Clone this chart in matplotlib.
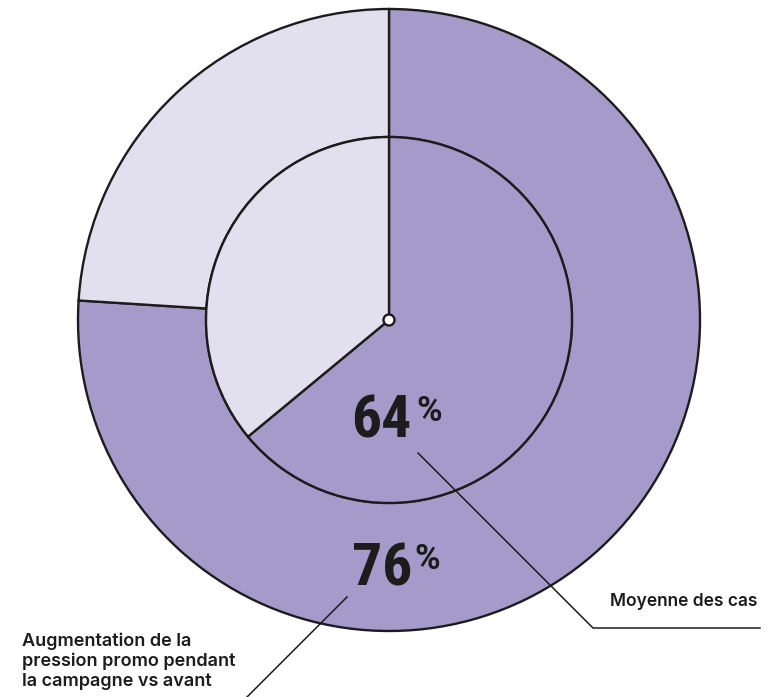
import matplotlib.pyplot as plt

# data
outer_labels = ['Augmentation', 'Reste']
outer_vals = [76, 24]
inner_labels = ['Moyenne des cas', 'Reste']
inner_vals = [64, 36]
outer_txt = 'Augmentation de la\npression promo pendant\nla campagne vs avant'
inner_txt = 'Moyenne des cas'

purple = '#a49bcb'
light = '#e2dfef'
ink = '#1c1c1c'

W, H = 777, 697
fig = plt.figure(figsize=(W/100, H/100), dpi=100)
ax = fig.add_axes([0, 0, 1, 1])

cx, cy = 389, H - 320
R_out, R_in = 311, 183

ax.pie(outer_vals, radius=R_out, center=(cx, cy), startangle=90, counterclock=False,
       colors=[purple, light],
       wedgeprops=dict(width=R_out - R_in, edgecolor=ink, linewidth=1.7))
ax.pie(inner_vals, radius=R_in, center=(cx, cy), startangle=90, counterclock=False,
       colors=[purple, light],
       wedgeprops=dict(edgecolor=ink, linewidth=1.7))
ax.add_patch(plt.Circle((cx, cy), 5.5, facecolor='white', edgecolor=ink, lw=1.7, zorder=5))

ax.set_xlim(0, W)
ax.set_ylim(0, H)
ax.set_aspect('equal')
ax.axis('off')

num_font = ['Roboto Condensed', 'Liberation Sans Narrow', 'Roboto']
pct_font = ['Roboto', 'DejaVu Sans']
# big numbers
ax.text(412, H - 437, f'{inner_vals[0]}', ha='right', va='baseline', fontsize=43,
        fontweight='bold', family=num_font, color=ink)
ax.text(416, H - 421, '%', ha='left', va='baseline', fontsize=25,
        fontweight='bold', family=pct_font, color=ink)
ax.text(412, H - 586, f'{outer_vals[0]}', ha='right', va='baseline', fontsize=43,
        fontweight='bold', family=num_font, color=ink)
ax.text(414, H - 569, '%', ha='left', va='baseline', fontsize=25,
        fontweight='bold', family=pct_font, color=ink)

# leader lines
ax.plot([418, 593, 760], [H - 453, H - 628, H - 628], color=ink, lw=1.1)
ax.plot([347, 247], [H - 597, H - 697], color=ink, lw=1.1)

lab_font = ['Inter', 'DejaVu Sans']
ax.text(757, H - 601, inner_txt, ha='right', va='center', fontsize=12.5,
        fontweight='semibold', family=lab_font, color=ink)
ax.text(22, H - 633, outer_txt, ha='left', va='top', fontsize=13,
        fontweight='semibold', family=lab_font, color=ink, linespacing=1.17)

fig.savefig('out.png', dpi=100)
